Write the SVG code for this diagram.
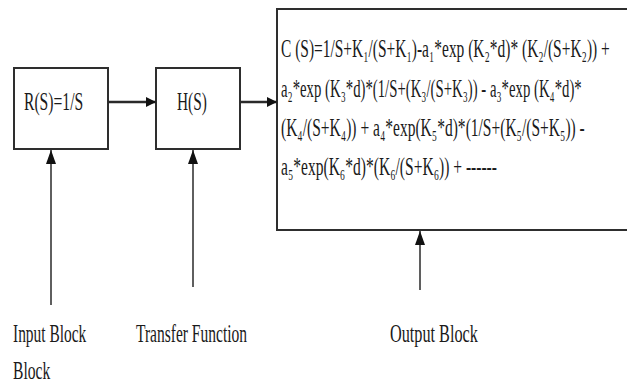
<svg xmlns="http://www.w3.org/2000/svg" width="627" height="385" viewBox="0 0 627 385">
<style>
.box{fill:#fff;stroke:#2e2e2e;stroke-width:2}
.t{font-family:'Liberation Serif','Times New Roman','DejaVu Serif',serif;font-size:25px;fill:#1a1a1a}
.ln{stroke:#2a2a2a;fill:none}
</style>
<defs>
<marker id="ah" viewBox="0 0 10 10" refX="10" refY="5" markerWidth="10" markerHeight="10" markerUnits="userSpaceOnUse" orient="auto">
<path d="M0,0 L10,5 L0,10 Z" fill="#111"/>
</marker>
<marker id="av" viewBox="0 0 14 10" refX="14" refY="5" markerWidth="14" markerHeight="10" markerUnits="userSpaceOnUse" orient="auto">
<path d="M0,0 L14,5 L0,10 Z" fill="#111"/>
</marker>
</defs>
<rect width="627" height="385" fill="#fff"/>
<g id="input-block">
<rect class="box" x="14" y="68" width="94" height="81"/>
<text class="t" transform="translate(24,110) scale(0.61,1)" textLength="97" lengthAdjust="spacingAndGlyphs">R(S)=1/S</text>
</g>
<g id="transfer-block">
<rect class="box" x="156" y="68" width="84" height="81"/>
<text class="t" transform="translate(177,110) scale(0.61,1)" textLength="49" lengthAdjust="spacingAndGlyphs">H(S)</text>
</g>
<g id="output-block">
<rect class="box" x="277" y="9" width="370" height="221"/>
<text class="t" transform="translate(281,57) scale(0.61,1)" textLength="539" lengthAdjust="spacingAndGlyphs">C (S)=1/S+K₁/(S+K₁)-a₁*exp (K₂*d)* (K₂/(S+K₂)) +</text>
<text class="t" transform="translate(281,97) scale(0.61,1)" textLength="493" lengthAdjust="spacingAndGlyphs">a₂*exp (K₃*d)*(1/S+(K₃/(S+K₃)) - a₃*exp (K₄*d)*</text>
<text class="t" transform="translate(281,136) scale(0.61,1)" textLength="498" lengthAdjust="spacingAndGlyphs">(K₄/(S+K₄)) + a₄*exp(K₅*d)*(1/S+(K₅/(S+K₅)) -</text>
<text class="t" transform="translate(281,175) scale(0.61,1)" textLength="354" lengthAdjust="spacingAndGlyphs">a₅*exp(K₆*d)*(K₆/(S+K₆)) + ------</text>
</g>
<g id="connectors">
<line class="ln" x1="108" y1="102" x2="156" y2="102" stroke-width="2.5" marker-end="url(#ah)"/>
<line class="ln" x1="240" y1="102" x2="277" y2="102" stroke-width="2.5" marker-end="url(#ah)"/>
<line class="ln" x1="51" y1="305" x2="51" y2="150" stroke-width="1.5" marker-end="url(#av)"/>
<line class="ln" x1="193" y1="287" x2="193" y2="150" stroke-width="1.5" marker-end="url(#av)"/>
<line class="ln" x1="420" y1="290" x2="420" y2="231" stroke-width="1.5" marker-end="url(#av)"/>
</g>
<g id="labels">
<text class="t" transform="translate(13,342) scale(0.61,1)" textLength="120" lengthAdjust="spacingAndGlyphs">Input Block</text>
<text class="t" transform="translate(13,379) scale(0.61,1)" textLength="61" lengthAdjust="spacingAndGlyphs">Block</text>
<text class="t" transform="translate(136,342) scale(0.61,1)" textLength="182" lengthAdjust="spacingAndGlyphs">Transfer Function</text>
<text class="t" transform="translate(390,342) scale(0.61,1)" textLength="144" lengthAdjust="spacingAndGlyphs">Output  Block</text>
</g>
</svg>
